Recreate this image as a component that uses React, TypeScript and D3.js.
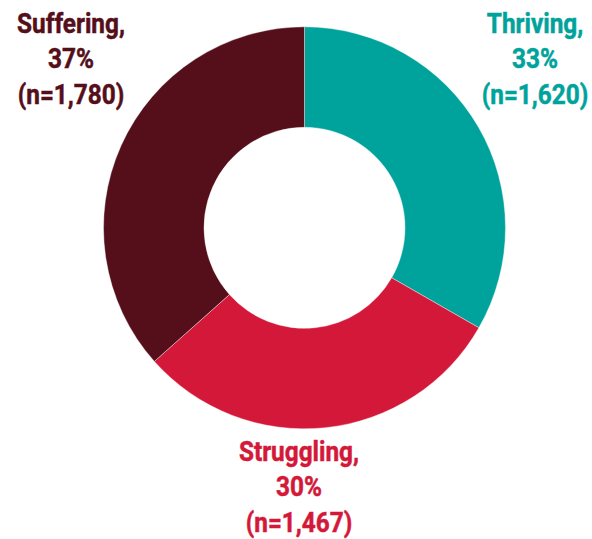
import React, { useEffect, useRef } from 'react';
import * as d3 from 'd3';

const categories = ['Thriving', 'Struggling', 'Suffering'];
const counts = [1620, 1467, 1780];
const percents = ['33%', '30%', '37%'];
const colors = ['#00a39c', '#d41839', '#540f1a'];

const W = 592;
const H = 539;

const App = () => {
  const svgRef = useRef<SVGSVGElement>(null);

  useEffect(() => {
    const svg = d3.select(svgRef.current);
    svg.selectAll('*').remove();

    const cx = 304.5;
    const cy = 227.8;
    const outer = 201;
    const inner = 100.5;

    const pie = d3.pie<number>().sort(null).value(d => d);
    const arc = d3.arc<d3.PieArcDatum<number>>().innerRadius(inner).outerRadius(outer);

    const g = svg.append('g').attr('transform', `translate(${cx},${cy})`);
    g.selectAll('path')
      .data(pie(counts))
      .enter()
      .append('path')
      .attr('d', arc)
      .attr('fill', (d, i) => colors[i])
      .attr('stroke', '#fff')
      .attr('stroke-width', 0.4);

    // label positions (centre x, first baseline)
    const labelPos = [
      [535, 33],
      [299, 461],
      [71, 33],
    ];
    const fmt = d3.format(',');

    categories.forEach((c, i) => {
      const lines = [c + ',', percents[i], `(n=${fmt(counts[i])})`];
      const t = svg.append('g')
        .attr('transform', `translate(${labelPos[i][0]},${labelPos[i][1]}) scale(0.87,1)`);
      t.selectAll('text')
        .data(lines)
        .enter()
        .append('text')
        .attr('x', 0)
        .attr('y', (d, j) => j * 35.5)
        .attr('text-anchor', 'middle')
        .attr('font-family', 'Roboto, sans-serif')
        .attr('font-weight', 700)
        .attr('font-size', '28px')
        .attr('fill', colors[i])
        .attr('stroke', colors[i])
        .attr('stroke-width', 0.5)
        .text(d => d);
    });
  }, []);

  return (
    <svg ref={svgRef} width={W} height={H} style={{ position: 'absolute', left: 0, top: 0 }}></svg>
  );
};

export default App;
